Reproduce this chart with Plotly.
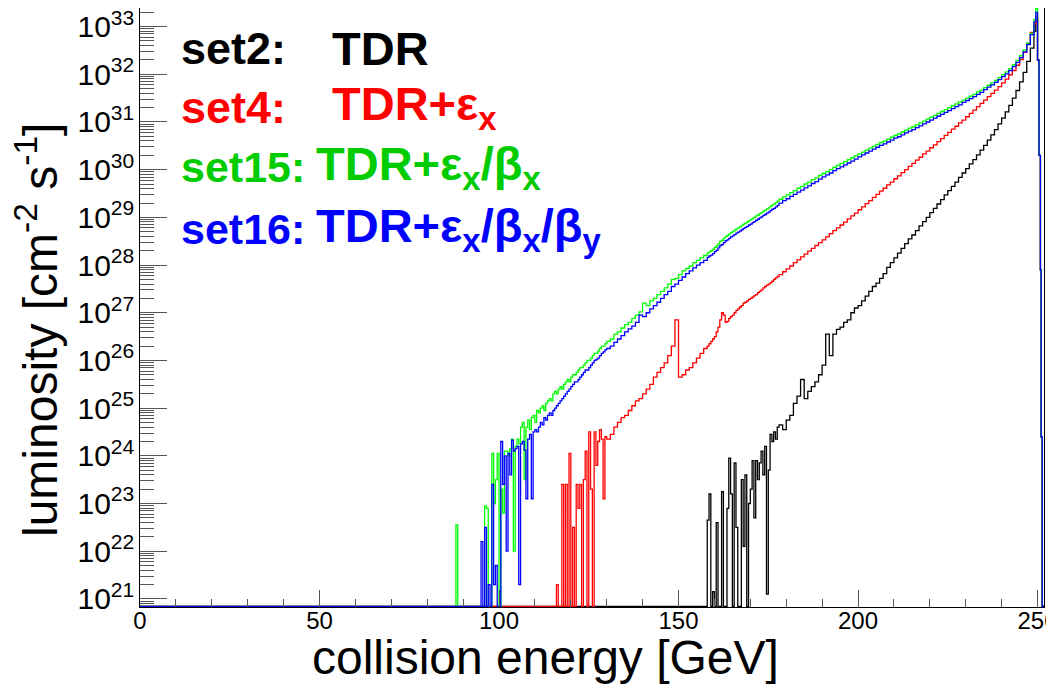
import plotly.graph_objects as go

# ---------------- data ----------------
# bin left edges [GeV] (last value = right edge of last bin)
bin_edges = ([0.0]
             + [86.0 + 0.5 * i for i in range(88)]      # 86 .. 129.5
             + [130.0 + i for i in range(28)]           # 130 .. 157
             + [158.0 + 0.5 * i for i in range(40)]     # 158 .. 177.5
             + [178.0 + i for i in range(71)]           # 178 .. 248
             + [249.0, 249.5, 250.0, 250.4, 250.8, 251.0, 251.3]
             + [252.0])

# log10(luminosity / cm^-2 s^-1) per bin; None = empty bin
lg_set2 = ([None] + [None] * 88 + [None] * 28
           + [22.65, 23.2, None, 21.15, None, 22.6, None, None, 23.25, None,
              None, 22.9, 23.95, 23.2, None, 23.85, 22.5, None, None, 23.5,
              22.1, 23.6, None, 23.0, 23.3, 23.9, 22.7, 23.9, 23.5, 23.85,
              24.1, 23.6, 24.2, 21.1, 23.7, 24.45, 24.3, 24.5, 24.35, 24.6]
           + [24.65, 24.55, 24.75, 24.85, 25.1, 25.25, 25.6, 25.2, 25.35, 25.45,
              25.55, 25.7, 25.9, 26.55, 26.1, 26.55, 26.65, 26.7, 26.8, 26.85,
              27.0, 27.1, 27.15, 27.25, 27.35, 27.45, 27.55, 27.62, 27.72, 27.82,
              27.95, 28.05, 28.15, 28.25, 28.35, 28.45, 28.55, 28.63, 28.72, 28.82,
              28.91, 29.0, 29.1, 29.19, 29.28, 29.37, 29.47, 29.56, 29.65, 29.74,
              29.84, 29.93, 30.02, 30.12, 30.21, 30.31, 30.41, 30.51, 30.62, 30.73,
              30.84, 30.96, 31.08, 31.21, 31.35, 31.5, 31.66, 31.84, 32.04, 32.27,
              32.55]
           + [32.9, 33.15, 32.3, 30.3, 27.9, 24.4, None])

lg_set4 = ([None] + [None] * 60
           + [21.3, None, None, 23.4, None, 23.4, None, 24.05, None, 22.5,
              None, 23.4, 22.9, 23.4, None, 23.5, 24.1, None, 24.5, 23.3,
              None, 24.5, 23.8, 24.3, 24.55, 24.35, 23.1, 24.4]
           + [24.35, 24.45, 24.6, 24.7, 24.8, 24.85, 24.95, 25.05, 25.15, 25.2,
              25.3, 25.4, 25.5, 25.65, 25.75, 25.85, 25.95, 26.1, 26.3, 26.85,
              25.65, 25.7, 25.8, 25.85, 25.95, 26.05, 26.15, 26.25]
           + [26.3, 26.35, 26.4, 26.45, 26.5, 26.6, 26.7, 26.85, 27.0, 26.95,
              26.8, 26.82, 26.88, 26.92, 26.95, 27.0, 27.05, 27.08, 27.12, 27.15,
              27.2, 27.22, 27.25, 27.28, 27.3, 27.33, 27.36, 27.38, 27.42, 27.45,
              27.48, 27.52, 27.55, 27.58, 27.6, 27.63, 27.66, 27.7, 27.73, 27.76]
           + [27.8, 27.86, 27.92, 27.98, 28.05, 28.11, 28.17, 28.23, 28.29, 28.35,
              28.41, 28.47, 28.53, 28.59, 28.66, 28.72, 28.78, 28.84, 28.9, 28.97,
              29.03, 29.09, 29.16, 29.22, 29.29, 29.35, 29.42, 29.48, 29.55, 29.61,
              29.68, 29.74, 29.81, 29.87, 29.94, 30.0, 30.07, 30.13, 30.2, 30.26,
              30.33, 30.39, 30.46, 30.52, 30.59, 30.65, 30.72, 30.78, 30.85, 30.91,
              30.98, 31.04, 31.11, 31.18, 31.25, 31.32, 31.39, 31.46, 31.53, 31.6,
              31.67, 31.74, 31.82, 31.9, 31.99, 32.08, 32.19, 32.31, 32.46, 32.64,
              32.88]
           + [33.05, 33.2, 32.3, 30.3, 27.9, 24.4, None])

lg_set15 = ([None] + [None] * 4 + [22.55] + [None] * 15
            + [22.95, 22.9, None, None, 24.05, 23.0, 23.5, 24.05, None, 23.3,
               22.8, 24.1, 24.1, 24.0, 24.15, 24.35, 22.0, 24.2, 24.35, 24.25,
               24.6, 24.7, 23.5, 24.6, 24.75, 24.55, 24.8, 24.85, 24.7, 24.95,
               24.9, 25.0, 25.05, 24.95, 25.1, 25.15, 25.2, 25.15, 25.3, 25.35,
               25.3, 25.4, 25.45, 25.4, 25.5, 25.55, 25.6, 25.55, 25.65, 25.7,
               25.7, 25.75, 25.8, 25.85, 25.85, 25.9, 25.95, 26.0, 26.0, 26.05,
               26.1, 26.15, 26.15, 26.2, 26.25, 26.3, 26.3, 26.35]
            + [26.4, 26.45, 26.55, 26.6, 26.68, 26.75, 26.8, 26.88, 26.95, 27.02,
               27.2, 27.15, 27.25, 27.3, 27.38, 27.45, 27.52, 27.6, 27.7, 27.72,
               27.8, 27.88, 27.93, 27.98, 28.05, 28.1, 28.15, 28.2]
            + [28.25, 28.28, 28.3, 28.33, 28.37, 28.4, 28.45, 28.5, 28.52, 28.56,
               28.6, 28.62, 28.65, 28.68, 28.7, 28.73, 28.76, 28.78, 28.8, 28.83,
               28.86, 28.88, 28.9, 28.93, 28.95, 28.98, 29.0, 29.03, 29.05, 29.08,
               29.1, 29.13, 29.15, 29.18, 29.2, 29.23, 29.26, 29.28, 29.31, 29.34]
            + [29.38, 29.43, 29.47, 29.52, 29.56, 29.61, 29.65, 29.7, 29.74, 29.79,
               29.83, 29.88, 29.92, 29.96, 30.0, 30.05, 30.09, 30.13, 30.17, 30.21,
               30.25, 30.29, 30.33, 30.37, 30.41, 30.45, 30.49, 30.53, 30.57, 30.6,
               30.64, 30.68, 30.72, 30.75, 30.79, 30.83, 30.87, 30.9, 30.94, 30.98,
               31.02, 31.06, 31.1, 31.14, 31.18, 31.22, 31.26, 31.3, 31.34, 31.38,
               31.42, 31.46, 31.5, 31.54, 31.58, 31.63, 31.67, 31.72, 31.77, 31.82,
               31.87, 31.93, 31.99, 32.05, 32.12, 32.2, 32.29, 32.39, 32.51, 32.66,
               32.86]
            + [33.15, 33.38, 32.3, 30.3, 27.9, 24.4, None])

lg_set16 = ([None] + [None] * 18
            + [22.2, None, 22.5, None, 21.3, None, 23.4, 21.3, 21.7, None,
               None, 24.3, 23.4, 24.0, 22.0, 24.05, 23.6, 24.33, 24.1, 24.15,
               24.2, 21.3, 24.25, 24.3, 24.12, 23.1, 24.35, 24.45, 23.1, 24.5,
               24.55, 24.5, 24.6, 24.7, 24.65, 24.8, 24.75, 24.85, 24.9, 24.85,
               24.95, 25.0, 25.05, 25.1, 25.15, 25.2, 25.25, 25.3, 25.35, 25.4,
               25.45, 25.5, 25.55, 25.55, 25.6, 25.65, 25.7, 25.75, 25.8, 25.8,
               25.85, 25.9, 25.95, 26.0, 26.02, 26.05, 26.1, 26.15, 26.18, 26.22]
            + [26.25, 26.3, 26.38, 26.45, 26.52, 26.6, 26.66, 26.72, 26.8, 26.95,
               26.92, 27.0, 27.08, 27.15, 27.22, 27.3, 27.38, 27.45, 27.55, 27.6,
               27.68, 27.75, 27.82, 27.88, 27.94, 28.0, 28.05, 28.1]
            + [28.16, 28.19, 28.21, 28.24, 28.28, 28.31, 28.36, 28.41, 28.43, 28.47,
               28.51, 28.53, 28.56, 28.59, 28.61, 28.64, 28.67, 28.69, 28.71, 28.74,
               28.77, 28.79, 28.81, 28.84, 28.86, 28.89, 28.91, 28.94, 28.96, 28.99,
               29.01, 29.04, 29.06, 29.09, 29.11, 29.14, 29.17, 29.19, 29.22, 29.25]
            + [29.3, 29.35, 29.39, 29.44, 29.48, 29.53, 29.57, 29.62, 29.66, 29.71,
               29.75, 29.8, 29.85, 29.89, 29.93, 29.98, 30.02, 30.06, 30.1, 30.14,
               30.18, 30.22, 30.27, 30.31, 30.35, 30.39, 30.43, 30.47, 30.51, 30.54,
               30.58, 30.62, 30.66, 30.69, 30.73, 30.77, 30.81, 30.84, 30.88, 30.92,
               30.96, 31.0, 31.04, 31.08, 31.12, 31.16, 31.2, 31.24, 31.28, 31.32,
               31.36, 31.41, 31.45, 31.49, 31.53, 31.58, 31.62, 31.68, 31.73, 31.78,
               31.83, 31.89, 31.95, 32.01, 32.08, 32.16, 32.25, 32.35, 32.47, 32.62,
               32.83]
            + [33.1, 33.3, 32.3, 30.3, 27.9, 24.4, None])

series_names = ["set2", "set4", "set15", "set16"]
series_lg = [lg_set2, lg_set4, lg_set15, lg_set16]
series_colors = ["#000000", "#ff0000", "#00ff00", "#0000ff"]
legend_left = ["set2:", "set4:", "set15:", "set16:"]
legend_right = ["TDR", "TDR+ε<sub>x</sub>", "TDR+ε<sub>x</sub>/β<sub>x</sub>",
                "TDR+ε<sub>x</sub>/β<sub>x</sub>/β<sub>y</sub>"]
legend_text_colors = ["#000000", "#ff0000", "#00cc00", "#0000ff"]

Y_LOG_MIN, Y_LOG_MAX = 20.83, 33.39
X_MAX = 251.8
FLOOR_LOG = 20.845

# ---------------- figure ----------------
# the page body has an 8 px margin; the figure is sized to fit the window
OFF = 8
W, H = 1054 - OFF, 693 - OFF
PLOT_L, PLOT_R, PLOT_T, PLOT_B = 140, 1044, 8, 607   # page pixels
L, R = PLOT_L - OFF, W - (PLOT_R - OFF)
T, B = PLOT_T - OFF, H - (PLOT_B - OFF)
PW, PH = W - L - R, H - T - B


def px(x):   # page pixel -> paper x
    return (x - OFF - L) / PW


def py(y):   # page pixel -> paper y
    return (H - B - (y - OFF)) / PH


nbins = len(bin_edges) - 1
fig = go.Figure()
for name, lg, col in zip(series_names, series_lg, series_colors):
    if len(lg) != nbins:
        print("length mismatch", name, len(lg), nbins)
        lg = (lg + [None] * nbins)[:nbins]
    vals = [10 ** (v if v is not None else FLOOR_LOG) for v in lg]
    fig.add_trace(go.Scatter(
        x=bin_edges, y=vals + [vals[-1]], mode="lines", name=name,
        line=dict(color=col, width=1.3, shape="hv"), showlegend=False,
        hoverinfo="skip"))

fig.update_layout(
    width=W, height=H,
    margin=dict(l=L, r=R, t=T, b=B, autoexpand=False),
    paper_bgcolor="white", plot_bgcolor="white",
    font=dict(family="Liberation Sans, Arial, sans-serif", color="black"),
)
fig.update_xaxes(
    range=[0, X_MAX], showgrid=False, zeroline=False, automargin=False,
    showline=True, linecolor="black", linewidth=1, mirror=True,
    ticks="inside", ticklen=17, tickcolor="#555555", tickwidth=1,
    tick0=0, dtick=50, tickfont=dict(size=24), ticklabeloverflow="allow",
    ticklabelstandoff=-8,
    minor=dict(ticks="inside", ticklen=8, dtick=10, tick0=0,
               tickcolor="#555555", tickwidth=1, showgrid=False),
)
fig.update_yaxes(
    type="log", range=[Y_LOG_MIN, Y_LOG_MAX], showgrid=False, zeroline=False,
    automargin=False,
    showline=True, linecolor="black", linewidth=1, mirror=True,
    ticks="inside", ticklen=27, tickcolor="#555555", tickwidth=1,
    dtick=1, exponentformat="power", tickfont=dict(size=24),
    ticklabeloverflow="allow",
    minor=dict(ticks="inside", ticklen=14, dtick="D1",
               tickcolor="#555555", tickwidth=1, showgrid=False),
)

# axis titles
fig.add_annotation(text="collision energy [GeV]", xref="paper", yref="paper",
                   x=px(545), y=py(657),
                   xanchor="center", yanchor="middle", showarrow=False,
                   font=dict(size=48, color="black"))
fig.add_annotation(text="luminosity [cm<sup>-2</sup> s<sup>-1</sup>]",
                   xref="paper", yref="paper", textangle=-90,
                   x=px(37), y=py(330),
                   xanchor="center", yanchor="middle", showarrow=False,
                   font=dict(size=48, color="black"))

# legend-like labels
row_y = [49, 107, 167, 229]
right_x = [330, 330, 314, 314]
left_size = [45, 45, 43, 43]
for yl, lt, rt, col, rx, ls in zip(row_y, legend_left, legend_right,
                                   legend_text_colors, right_x, left_size):
    fig.add_annotation(text="<b>%s</b>" % lt, xref="paper", yref="paper",
                       x=px(179), y=py(yl),
                       xanchor="left", yanchor="middle", showarrow=False,
                       font=dict(size=ls, color=col))
    fig.add_annotation(text="<b>%s</b>" % rt, xref="paper", yref="paper",
                       x=px(rx), y=py(yl),
                       xanchor="left", yanchor="middle", showarrow=False,
                       font=dict(size=47, color=col))

fig.write_html("out.html")
